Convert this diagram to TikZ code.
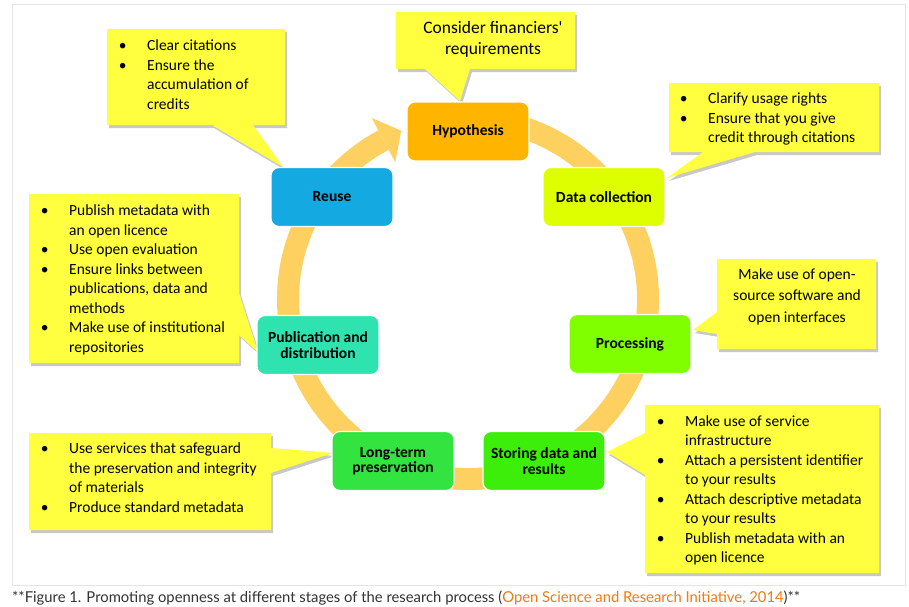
\documentclass[tikz,border=0pt]{standalone}
\usepackage{fontspec}
\setmainfont{Carlito}
\newfontfamily\capfont{Lato}
\usepackage{graphicx}
\usetikzlibrary{calc}
\definecolor{ringc}{RGB}{253,208,96}
\definecolor{callc}{RGB}{255,255,64}
\definecolor{shadc}{RGB}{200,200,200}
\definecolor{hypc}{RGB}{255,180,0}
\definecolor{datac}{RGB}{222,255,0}
\definecolor{procc}{RGB}{128,255,0}
\definecolor{storc}{RGB}{60,238,10}
\definecolor{longc}{RGB}{51,228,64}
\definecolor{pubc}{RGB}{46,227,176}
\definecolor{reuc}{RGB}{20,169,224}
\definecolor{linkc}{RGB}{240,122,20}
\definecolor{capc}{RGB}{51,51,51}
\definecolor{framec}{RGB}{229,229,229}
\newcommand\callshape[1]{\fill[shadc,shift={(2,3)}] #1; \fill[callc] #1;}
\newcommand\bb{\makebox[28pt][l]{\makebox[7pt]{\textbullet}}}
\begin{document}
\begin{tikzpicture}[x=1pt,y=-1pt,
  stage/.style={rounded corners=8pt, minimum width=122pt, minimum height=59pt,
    draw=white, line width=1.2pt, inner sep=2pt, align=center,
    font=\fontsize{15.5}{15.5}\selectfont\bfseries, text=black},
  bultext/.style={anchor=base west, inner sep=0pt, font=\fontsize{15.5}{19.5}\selectfont},
  ctext/.style={anchor=base, inner sep=0pt},
  ring/.style={draw=ringc, line width=22pt}]
\useasboundingbox (0,0) rectangle (909,606);
\fill[white] (0,0) rectangle (909,606);
\draw[framec, line width=1pt] (12,4) rectangle (905,585);
% cycle ring
\coordinate (ctr) at (468,299);
\draw[ring] ($(ctr)+(-100:180)$) arc[start angle=-100, end angle=242, radius=180];
\fill[ringc] (371.8,118.0) -- (401.2,130.7) -- (395.2,162.2) -- cycle;
% callouts
\callshape{(396,12)--(575,12)--(575,69)--(470,69)--(460,101)--(425,69)--(396,69)--cycle}
\callshape{(107,29)--(285,29)--(285,125)--(253,125)--(283,167)--(212,125)--(107,125)--cycle}
\callshape{(669,83)--(879,83)--(879,152)--(755,152)--(667,178)--(703,152)--(669,152)--cycle}
\callshape{(717,259)--(876,259)--(876,349)--(717,349)--(717,334)--(693,330)--(717,312)--cycle}
\callshape{(645,405)--(879,405)--(879,573)--(645,573)--(645,475)--(607,452)--(645,433)--cycle}
\callshape{(29,194)--(239,194)--(239,293)--(258,352)--(239,335)--(239,363)--(29,363)--cycle}
\callshape{(29,433)--(271,433)--(271,448)--(333,453)--(271,473)--(271,530)--(29,530)--cycle}
% stages
\node[stage, fill=hypc] (hyp) at (468,131.5) {Hypothesis};
\node[stage, fill=datac] (dat) at (604,197) {Data collection};
\node[stage, fill=procc] (pro) at (630,344) {Processing};
\node[stage, fill=storc] (sto) at (544,461) {Storing data and\\results};
\node[stage, fill=longc] (lon) at (393,461) {Long-term\\preservation};
\node[stage, fill=pubc] (pub) at (318,345) {Publication and\\distribution};
\node[stage, fill=reuc] (reu) at (332,197) {Reuse};
% callout texts
\node[ctext, font=\fontsize{17.5}{21}\selectfont] (c1) at (493,33)
  {\begin{tabular}[t]{@{}c@{}}Consider financiers\textquotesingle\\requirements\end{tabular}};
\node[bultext] (c2) at (119,50.5)
  {\begin{tabular}[t]{@{}l@{}l@{}}\bb & Clear citations\\ \bb & Ensure the\\ & accumulation of\\ & credits\end{tabular}};
\node[bultext] (c3) at (680,103.5)
  {\begin{tabular}[t]{@{}l@{}l@{}}\bb & Clarify usage rights\\ \bb & Ensure that you give\\ & credit through citations\end{tabular}};
\node[ctext, font=\fontsize{15.5}{21.3}\selectfont] (c4) at (797,279.5)
  {\begin{tabular}[t]{@{}c@{}}Make use of open-\\source software and\\open interfaces\end{tabular}};
\node[bultext] (c5) at (657,426)
  {\begin{tabular}[t]{@{}l@{}l@{}}\bb & Make use of service\\ & infrastructure\\ \bb & Attach a persistent identifier\\ & to your results\\ \bb & Attach descriptive metadata\\ & to your results\\ \bb & Publish metadata with an\\ & open licence\end{tabular}};
\node[bultext] (c6) at (41,215.5)
  {\begin{tabular}[t]{@{}l@{}l@{}}\bb & Publish metadata with\\ & an open licence\\ \bb & Use open evaluation\\ \bb & Ensure links between\\ & publications, data and\\ & methods\\ \bb & Make use of institutional\\ & repositories\end{tabular}};
\node[bultext] (c7) at (41,453.5)
  {\begin{tabular}[t]{@{}l@{}l@{}}\bb & Use services that safeguard\\ & the preservation and integrity\\ & of materials\\ \bb & Produce standard metadata\end{tabular}};
% caption
\node[anchor=base west, inner sep=0pt, text=capc] (cap) at (12,602)
  {\resizebox{788pt}{\height}{\capfont\fontsize{15}{18}\selectfont **Figure 1. Promoting openness at different stages of the research process (\textcolor{linkc}{Open Science and Research Initiative, 2014})**}};
\end{tikzpicture}
\end{document}
